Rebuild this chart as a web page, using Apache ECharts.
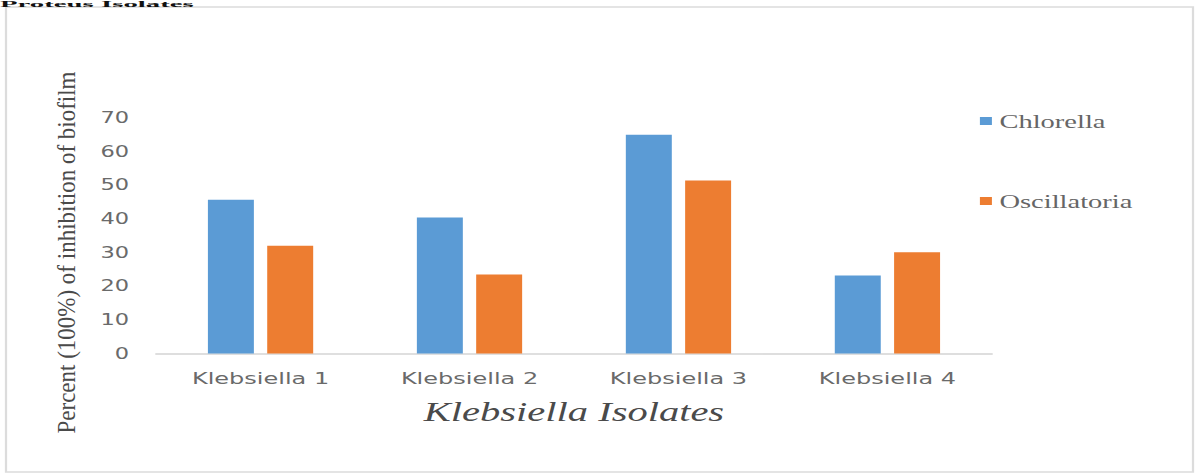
<!DOCTYPE html>
<html>
<head>
<meta charset="utf-8">
<title>Klebsiella Isolates</title>
<script src="https://cdn.jsdelivr.net/npm/echarts@6/dist/echarts.min.js"></script>
<style>
  html, body { margin: 0; padding: 0; background: #ffffff; overflow: hidden; }
  #wrap { width: 1202px; height: 475px; overflow: hidden; position: relative; }
  /* the figure is laid out on a narrower canvas and widened horizontally */
  #chart { width: 801px; height: 475px; transform: scaleX(1.50062); transform-origin: 0 0; }
</style>
</head>
<body>
<div id="wrap"><div id="chart"></div></div>
<script>
// Percent inhibition of biofilm for each Klebsiella isolate
const isolates = ['Klebsiella 1', 'Klebsiella 2', 'Klebsiella 3', 'Klebsiella 4'];
const chlorella = [45.7, 40.4, 65.0, 23.2];
const oscillatoria = [32.0, 23.5, 51.4, 30.1];
const seriesNames = ['Chlorella', 'Oscillatoria'];
const yTicks = { min: 0, max: 70, step: 10 };

const sansFont = '"DejaVu Sans", "Open Sans", sans-serif';
const serifFont = '"Liberation Serif", "DejaVu Serif", serif';

const chart = echarts.init(document.getElementById('chart'), null, { renderer: 'svg' });

chart.setOption({
  backgroundColor: '#ffffff',
  animation: false,
  color: ['#5B9BD5', '#ED7D31'],
  grid: { left: 104, right: 140, top: 118, bottom: 121.5, containLabel: false },
  legend: {
    data: seriesNames,
    orient: 'vertical',
    left: 653,
    top: 111,
    padding: 0,
    itemWidth: 8,
    itemHeight: 8,
    itemGap: 60,
    icon: 'rect',
    textStyle: { fontFamily: serifFont, fontSize: 19, color: '#666666', lineHeight: 20 }
  },
  xAxis: {
    type: 'category',
    data: isolates,
    name: 'Klebsiella Isolates',
    nameLocation: 'middle',
    nameGap: 45,
    nameTextStyle: { fontFamily: serifFont, fontStyle: 'italic', fontSize: 27, color: '#4a4a4a' },
    axisLine: { lineStyle: { color: '#d4d4d4', width: 1.5 } },
    axisTick: { show: false },
    axisLabel: { margin: 17, fontFamily: sansFont, fontSize: 16, color: '#6a6a6a' }
  },
  yAxis: {
    type: 'value',
    min: yTicks.min,
    max: yTicks.max,
    interval: yTicks.step,
    axisLine: { show: false },
    axisTick: { show: false },
    splitLine: { show: false },
    axisLabel: { margin: 18, fontFamily: sansFont, fontSize: 15, color: '#6a6a6a' }
  },
  series: [
    { name: seriesNames[0], type: 'bar', data: chlorella, barWidth: '22%', barGap: '29%' },
    { name: seriesNames[1], type: 'bar', data: oscillatoria, barWidth: '22%', barGap: '29%' }
  ],
  graphic: [
    {
      // frame around the figure
      type: 'rect',
      silent: true,
      shape: { x: 4, y: 7, width: 791, height: 465 },
      style: { fill: 'none', stroke: '#dcdcdc', lineWidth: 1.5 }
    },
    {
      // heading of the preceding figure, in the strip above the frame
      type: 'text',
      silent: true,
      x: 0,
      y: 0,
      scaleX: 2.4,
      style: {
        text: 'Proteus Isolates',
        font: 'bold 8px ' + serifFont,
        fill: '#111111',
        textAlign: 'left',
        textVerticalAlign: 'top'
      }
    },
    {
      // vertical axis title
      type: 'text',
      silent: true,
      x: 44,
      y: 252.5,
      rotation: Math.PI / 2,
      scaleY: 0.75,
      style: {
        text: 'Percent (100%) of inhibition of biofilm',
        font: '23px ' + serifFont,
        fill: '#4a4a4a',
        textAlign: 'center',
        textVerticalAlign: 'middle'
      }
    }
  ]
});
</script>
</body>
</html>
